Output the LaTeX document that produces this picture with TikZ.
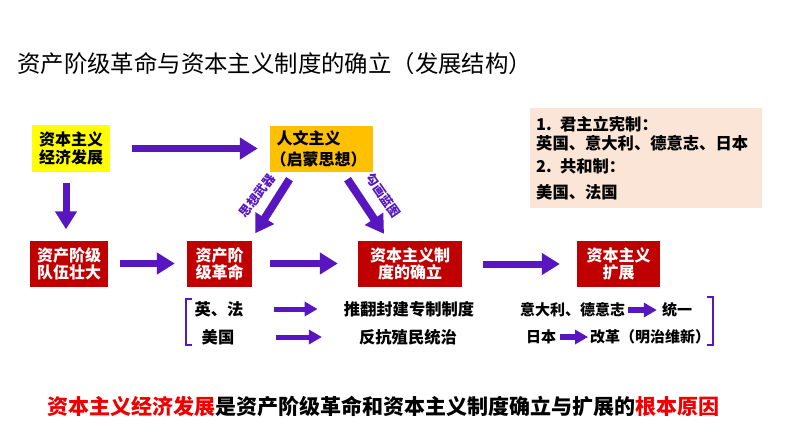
\documentclass[tikz,border=0pt]{standalone}
\usepackage{fontspec}
\setmainfont{Noto Sans CJK SC}
\usepackage{xcolor}
\usetikzlibrary{arrows.meta, positioning}
\definecolor{ArrowPurple}{RGB}{88,22,192}
\definecolor{BoxYellow}{RGB}{255,255,0}
\definecolor{BoxOrange}{RGB}{255,192,0}
\definecolor{BoxRed}{RGB}{192,0,0}
\definecolor{NotePink}{RGB}{251,229,214}
\definecolor{KeyRed}{RGB}{238,0,0}

\begin{document}
\begin{tikzpicture}[x=1pt, y=-1pt,
  box/.style={inner sep=0pt, align=center, font=\fontsize{16}{17}\selectfont\bfseries},
  redbox/.style={box, fill=BoxRed, text=white, minimum height=46pt},
  bigarrow/.style={ArrowPurple, line width=7pt, -{Triangle[length=18pt,width=21pt]}},
  smallarrow/.style={ArrowPurple, line width=5pt, -{Triangle[length=13pt,width=14pt]}},
  bracketline/.style={ArrowPurple, line width=2pt},
  plaintext/.style={inner sep=0pt, font=\fontsize{16.3}{18}\selectfont\bfseries},
  smalltext/.style={inner sep=0pt, font=\fontsize{15}{17}\selectfont\bfseries},
  tagtext/.style={inner sep=0pt, font=\fontsize{12.5}{14}\selectfont\bfseries},
  titletext/.style={inner sep=0pt, font=\fontsize{23.4}{26}\selectfont},
  summary/.style={inner sep=0pt, font=\fontsize{21}{24}\selectfont\bfseries}
]
\fill[white] (0,0) rectangle (794,447);
\useasboundingbox (0,0) rectangle (794,447);

% ---- Title ----
\node[titletext, anchor=west] (title) at (17,64) {资产阶级革命与资本主义制度的确立（发展结构）};

% ---- Top row ----
\node[box, fill=BoxYellow, minimum width=78pt, minimum height=47pt,
      font=\fontsize{16}{18.5}\selectfont\bfseries] (econ) at (71,148.5) {资本主义\\经济发展};
\node[box, fill=BoxOrange, minimum width=103pt, minimum height=46pt, align=left,
      font=\fontsize{16}{21}\selectfont\bfseries] (enlight) at (321.5,149) {人文主义\\\kern-6pt（启蒙思想）};
\node[box, fill=NotePink, anchor=north west, align=left, inner xsep=6pt, inner ysep=8pt,
      minimum width=232pt, minimum height=97pt, text width=220pt,
      font=\fontsize{16.3}{19}\selectfont\bfseries] (forms) at (530,108)
      {1. 君主立宪制：\\英国、意大利、德意志、日本\\[4pt]2. 共和制：\\[7pt]美国、法国};

% ---- Red row ----
\node[redbox, minimum width=78pt]  (growth) at (69,263.5)  {资产阶级\\队伍壮大};
\node[redbox, minimum width=65pt]  (revol)  at (219.5,263.5) {资产阶\\级革命};
\node[redbox, minimum width=104pt] (system) at (410,264)   {资本主义制\\度的确立};
\node[redbox, minimum width=83pt]  (expand) at (618.5,264) {资本主义\\扩展};

% ---- Main arrows ----
\draw[bigarrow] ([xshift=22pt]econ.east) -- ([xshift=-12pt]econ.east -| enlight.west);
\draw[bigarrow] ([xshift=-5pt,yshift=-11pt]econ.south) -- ([xshift=-3pt,yshift=11pt]growth.north);
\draw[bigarrow, line width=8pt] ([xshift=-32pt,yshift=-7pt]enlight.south)
  -- node[pos=.3, xshift=-22pt, rotate=52, tagtext] (weapon) {思想武器}
  ([xshift=3pt,yshift=7pt]revol.north east);
\draw[bigarrow, line width=8pt] ([xshift=26pt,yshift=-7pt]enlight.south)
  -- node[pos=.3, xshift=25pt, rotate=-55, tagtext] (blueprint) {勾画蓝图}
  ([xshift=-26pt,yshift=7pt]system.north);
\draw[bigarrow] ([xshift=12pt]growth.east) -- ([xshift=-12pt]revol.west);
\draw[bigarrow] ([xshift=18pt]revol.east) -- ([xshift=-20pt]revol.east -| system.west);
\draw[bigarrow] ([xshift=21pt]system.east) -- ([xshift=-17pt]expand.west);

% ---- Revolutions ----
\node[plaintext] (ukfr)      at (219,309) {英、法};
\node[plaintext] (usa)       at (218,337) {美国};
\node[plaintext] (overthrow) at (409,309) {推翻封建专制制度};
\node[plaintext] (resist)    at (408,337) {反抗殖民统治};
\draw[smallarrow] ([xshift=30pt]ukfr.east) -- ([xshift=-26pt]ukfr.east -| overthrow.west);
\draw[smallarrow] ([xshift=41pt]usa.east) -- ([xshift=-37pt]usa.east -| resist.west);
\draw[bracketline] (192,299) -- (186,299) -- (186,345) -- (192,345);

% ---- Reforms ----
\node[smalltext] (italy)  at (572.5,310) {意大利、德意志};
\node[smalltext] (unify)  at (677,310)   {统一};
\node[smalltext] (japan)  at (541,337)   {日本};
\node[smalltext, anchor=west] (reform) at (590,337) {改革（明治维新）};
\draw[smallarrow, line width=6pt] ([xshift=3pt]italy.east) -- ([xshift=-5pt]unify.west);
\draw[smallarrow, line width=6pt] ([xshift=4pt]japan.east) -- ([xshift=-2pt]reform.west);
\draw[bracketline] (707,297) -- (713,297) -- (713,345) -- (707,345);

% ---- Conclusion ----
\node[summary, anchor=west] (cause) at (47,406)
  {\textcolor{KeyRed}{资本主义经济发展}是资产阶级革命和资本主义制度确立与扩展的\textcolor{KeyRed}{根本原因}};

\end{tikzpicture}
\end{document}
